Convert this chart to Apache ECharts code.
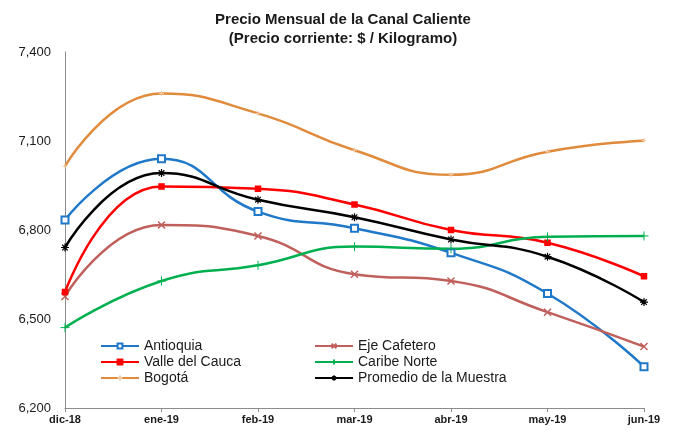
<!DOCTYPE html>
<html>
<head>
<meta charset="utf-8">
<script src="https://cdn.jsdelivr.net/npm/echarts@6/dist/echarts.min.js"></script>
<style>
  html, body { margin: 0; padding: 0; background: #fff; }
  #chart { width: 675px; height: 430px; }
</style>
</head>
<body>
<div id="chart"></div>
<script>
const months = ["dic-18", "ene-19", "feb-19", "mar-19", "abr-19", "may-19", "jun-19"];
const yTicks = [6200, 6500, 6800, 7100, 7400];

const antioquia = [6834, 7040, 6862, 6806, 6723, 6586, 6339];
const ejeCafetero = [6576, 6817, 6780, 6651, 6628, 6523, 6407];
const valleDelCauca = [6591, 6947, 6939, 6886, 6800, 6757, 6644];
const caribeNorte = [6471, 6628, 6681, 6744, 6737, 6777, 6780];
const bogota = [7015, 7260, 7193, 7069, 6986, 7064, 7102];
const promedio = [6741, 6992, 6902, 6843, 6768, 6710, 6557];

const fontMain = "'Liberation Sans', Arial, sans-serif";

const chart = echarts.init(document.getElementById("chart"));

function line(name, data, color, symbol, size, extra) {
  return Object.assign({
    name: name,
    type: "line",
    data: data,
    smooth: 0.5,
    symbol: symbol,
    symbolSize: size,
    showAllSymbol: true,
    lineStyle: { color: color, width: 2.5 },
    itemStyle: { color: color, borderColor: color, borderWidth: 1.5 },
    emphasis: { disabled: true },
  }, extra || {});
}

const xPath = "path://M0,0L10,10M10,0L0,10";
const plusPath = "path://M5,0L5,10M0,5L10,5";
const starPath = "path://M5,0L5,10M0,5L10,5M1.5,1.5L8.5,8.5M8.5,1.5L1.5,8.5";

const legendBase = {
  orient: "vertical",
  top: 339,
  padding: 0,
  itemWidth: 38,
  itemHeight: 6,
  itemGap: 2,
  textStyle: { fontFamily: fontMain, fontSize: 14, color: "#1a1a1a" },
};

chart.setOption({
  animation: false,
  title: {
    text: "Precio Mensual de la Canal Caliente\n(Precio corriente: $ / Kilogramo)",
    left: 338,
    textAlign: "center",
    top: 5,
    textStyle: {
      fontFamily: fontMain,
      fontSize: 15,
      fontWeight: "bold",
      color: "#1a1a1a",
      lineHeight: 19,
    },
  },
  grid: {
    left: 65,
    right: 31,
    top: 52,
    bottom: 22,
  },
  legend: [
    Object.assign({}, legendBase, {
      left: 100,
      data: ["Antioquia", "Valle del Cauca", "Bogotá"],
    }),
    Object.assign({}, legendBase, {
      left: 314,
      data: ["Eje Cafetero", "Caribe Norte", "Promedio de la Muestra"],
    }),
  ],
  xAxis: {
    type: "category",
    boundaryGap: false,
    data: months,
    axisLine: { lineStyle: { color: "#8c8c8c", width: 1 } },
    axisTick: { show: true, alignWithLabel: true, length: 4, lineStyle: { color: "#8c8c8c" } },
    axisLabel: {
      fontFamily: fontMain,
      fontSize: 11,
      fontWeight: "bold",
      color: "#1a1a1a",
      margin: 6,
    },
    splitLine: { show: false },
  },
  yAxis: {
    type: "value",
    min: yTicks[0],
    max: yTicks[yTicks.length - 1],
    interval: 300,
    axisLine: { show: true, lineStyle: { color: "#8c8c8c", width: 1 } },
    axisTick: { show: false },
    splitLine: { show: false },
    axisLabel: {
      fontFamily: fontMain,
      fontSize: 13,
      color: "#1a1a1a",
      margin: 14,
      formatter: (v) => v.toLocaleString("en-US"),
    },
  },
  series: [
    line("Antioquia", antioquia, "#1f78c8", "emptyRect", 7),
    line("Eje Cafetero", ejeCafetero, "#c0605c", xPath, 7),
    line("Valle del Cauca", valleDelCauca, "#ff0000", "rect", 5),
    line("Caribe Norte", caribeNorte, "#00b050", plusPath, 9, {
      itemStyle: { color: "#00b050", borderColor: "#00b050", borderWidth: 1 },
    }),
    line("Bogotá", bogota, "#e08a3c", plusPath, 5, {
      itemStyle: { color: "#f4c9a4", borderColor: "#f4c9a4", borderWidth: 1 },
    }),
    line("Promedio de la Muestra", promedio, "#000000", starPath, 8, {
      itemStyle: { color: "#000000", borderColor: "#000000", borderWidth: 1.2 },
    }),
  ],
});
</script>
</body>
</html>
